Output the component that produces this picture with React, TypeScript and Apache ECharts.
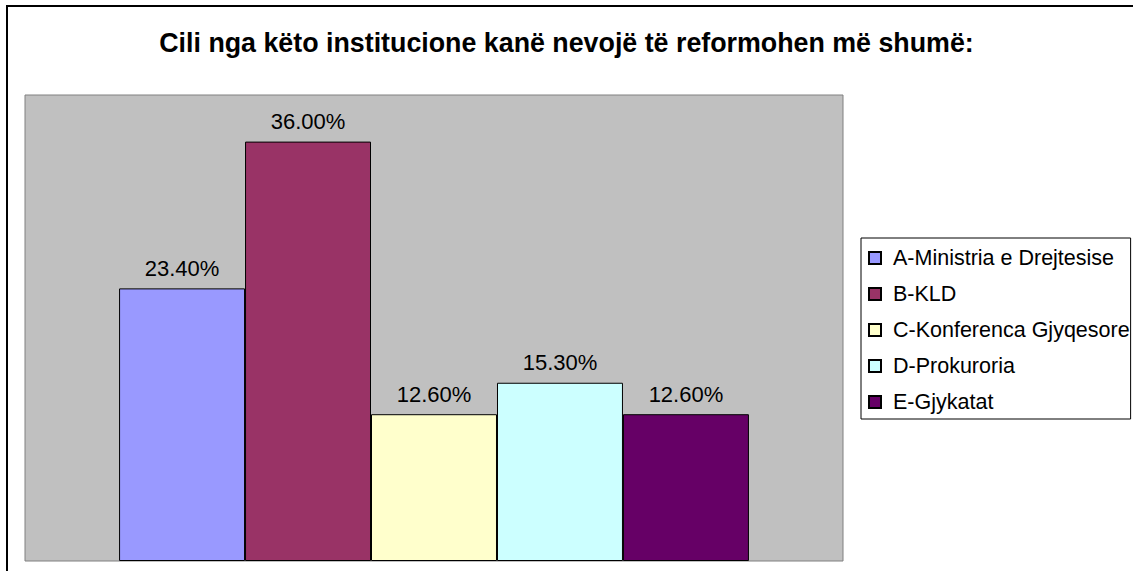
import React, { useEffect, useRef } from "react";
import * as echarts from "echarts";

const titleText = "Cili nga këto institucione kanë nevojë të reformohen më shumë:";
const seriesNames = [
  "A-Ministria e Drejtesise",
  "B-KLD",
  "C-Konferenca Gjyqesore",
  "D-Prokuroria",
  "E-Gjykatat",
];
const seriesValues = [23.4, 36.0, 12.6, 15.3, 12.6];
const seriesColors = ["#9999FF", "#993366", "#FFFFCC", "#CCFFFF", "#660066"];
const categories = [""];

const FONT = "'Liberation Sans', Arial, sans-serif";

export default function App() {
  const ref = useRef<HTMLDivElement>(null);
  useEffect(() => {
    if (!ref.current) return;
    const chart = echarts.init(ref.current, null, { renderer: "svg" });
    chart.setOption({
      animation: false,
      backgroundColor: "#FFFFFF",
      title: {
        text: titleText,
        left: "center",
        top: 29,
        padding: [0, 0, 0, 12],
        textStyle: { fontFamily: FONT, fontSize: 26.8, fontWeight: "bold", color: "#000" },
      },
      graphic: [
        {
          type: "rect",
          shape: { x: 7, y: 6, width: 1140, height: 600 },
          style: { fill: "none", stroke: "#000", lineWidth: 2 },
          silent: true,
        },
      ],
      legend: {
        orient: "vertical",
        left: 861,
        top: 238,
        padding: [9, 1, 6, 7],
        itemGap: 14,
        itemWidth: 12,
        itemHeight: 12,
        icon: "rect",
        borderColor: "#000",
        borderWidth: 1,
        backgroundColor: "#FFFFFF",
        textStyle: { fontFamily: FONT, fontSize: 21.5, lineHeight: 21, color: "#000", padding: [0, 0, 0, 7] },
        data: seriesNames,
      },
      grid: {
        left: 25,
        top: 95,
        width: 818,
        height: 466,
        show: true,
        backgroundColor: "#C0C0C0",
        borderColor: "#808080",
        borderWidth: 1,
      },
      xAxis: {
        type: "category",
        data: categories,
        axisLine: { show: false },
        axisTick: { show: false },
        axisLabel: { show: false },
      },
      yAxis: {
        type: "value",
        min: 0,
        max: 40,
        show: false,
        splitLine: { show: false },
      },
      series: seriesNames.map((name, i) => ({
        name,
        type: "bar",
        data: [seriesValues[i]],
        barGap: "0%",
        barCategoryGap: "23%",
        itemStyle: { color: seriesColors[i], borderColor: "#000", borderWidth: 1 },
        label: {
          show: true,
          position: "top",
          distance: 9,
          fontFamily: FONT,
          fontSize: 22,
          color: "#000",
          formatter: (p: any) => Number(p.value).toFixed(2) + "%",
        },
      })),
    });
    return () => chart.dispose();
  }, []);
  return (
    <div
      ref={ref}
      style={{ position: "absolute", left: 0, top: 0, width: 1133, height: 571 }}
    />
  );
}
